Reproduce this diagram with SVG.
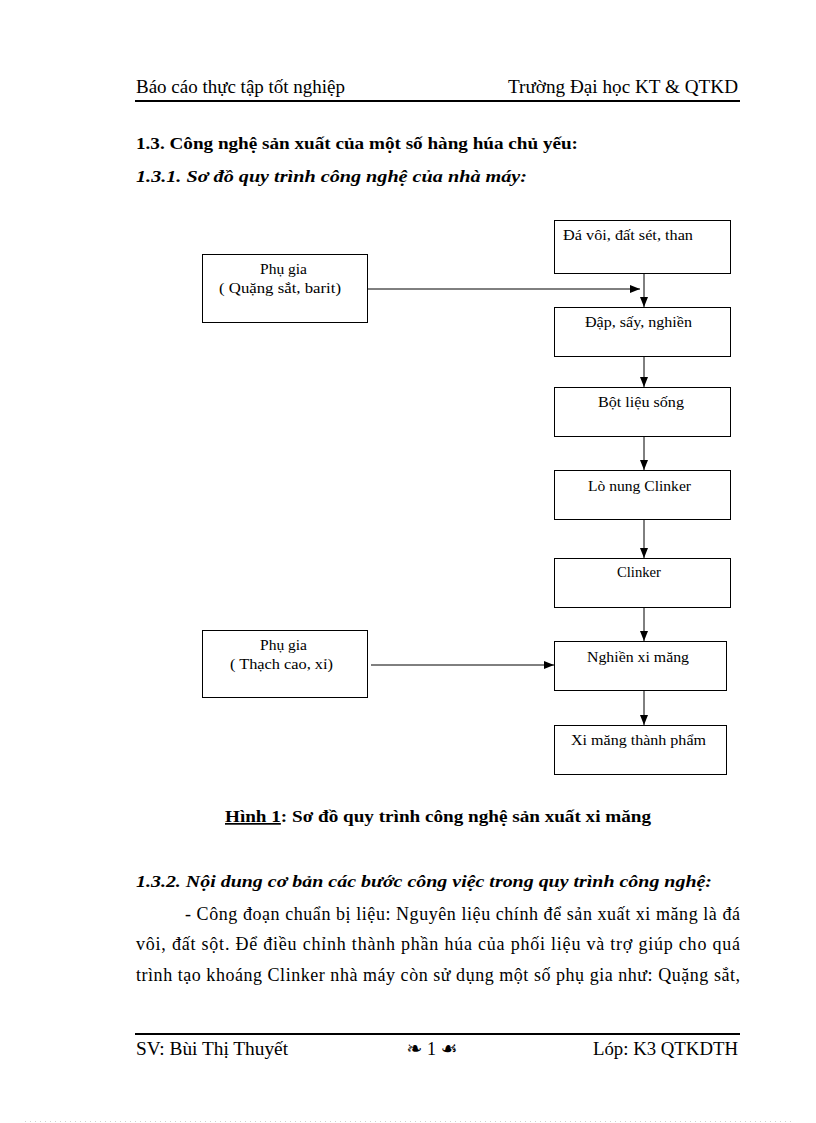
<svg xmlns="http://www.w3.org/2000/svg" width="816" height="1123" viewBox="0 0 816 1123">
<defs>
<marker id="ah" viewBox="0 0 10 8" refX="10" refY="4" markerWidth="10" markerHeight="8" markerUnits="userSpaceOnUse" orient="auto">
<path d="M0,0 L10,4 L0,8 Z" fill="#000"/>
</marker>
<style>
text{font-family:"Liberation Serif","Times New Roman",serif;fill:#000}
.hd{font-size:18px}
.b{font-weight:bold;font-size:17px}
.bi{font-weight:bold;font-style:italic;font-size:17px}
.p{font-size:18px}
.n{font-size:15px}
.box{fill:#fff;stroke:#000;stroke-width:1}
.c{stroke:#000;stroke-width:1;fill:none;marker-end:url(#ah)}
.rule{stroke:#000;stroke-width:2}
</style>
</defs>
<rect width="816" height="1123" fill="#fff"/>
<g id="header">
<text class="hd" x="136" y="93" textLength="209" lengthAdjust="spacingAndGlyphs">Báo cáo thực tập tốt nghiệp</text>
<text class="hd" x="508" y="93" textLength="230" lengthAdjust="spacingAndGlyphs">Trường Đại học KT &amp; QTKD</text>
<line class="rule" x1="135" y1="101" x2="740" y2="101"/>
</g>
<g id="headings">
<text class="b" x="136" y="149" textLength="442" lengthAdjust="spacingAndGlyphs">1.3. Công nghệ sản xuất của một số hàng húa chủ yếu:</text>
<text class="bi" x="136" y="182" textLength="391" lengthAdjust="spacingAndGlyphs">1.3.1. Sơ đồ quy trình công nghệ của nhà máy:</text>
</g>
<g id="connectors">
<line class="c" x1="367" y1="289" x2="640" y2="289"/>
<line class="c" x1="644" y1="273" x2="644" y2="307"/>
<line class="c" x1="644" y1="356" x2="644" y2="387"/>
<line class="c" x1="644" y1="436" x2="644" y2="470"/>
<line class="c" x1="644" y1="519" x2="644" y2="558"/>
<line class="c" x1="644" y1="607" x2="644" y2="641"/>
<line class="c" x1="371" y1="665" x2="554" y2="665"/>
<line class="c" x1="644" y1="691" x2="644" y2="725"/>
</g>
<g id="n_davoi">
<rect class="box" x="554.5" y="220.5" width="176" height="53"/>
<text class="n" x="563" y="240" textLength="130" lengthAdjust="spacingAndGlyphs">Đá vôi,  đất sét, than</text>
</g>
<g id="n_phugia1">
<rect class="box" x="202.5" y="254.5" width="165" height="68"/>
<text class="n" x="260" y="274" textLength="47" lengthAdjust="spacingAndGlyphs">Phụ gia</text>
<text class="n" x="219" y="293" textLength="122" lengthAdjust="spacingAndGlyphs">( Quặng  sắt, barit)</text>
</g>
<g id="n_dap">
<rect class="box" x="554.5" y="307.5" width="176" height="49"/>
<text class="n" x="585" y="327" textLength="107" lengthAdjust="spacingAndGlyphs">Đập, sấy, nghiền</text>
</g>
<g id="n_botlieu">
<rect class="box" x="554.5" y="387.5" width="176" height="49"/>
<text class="n" x="598" y="407" textLength="86" lengthAdjust="spacingAndGlyphs">Bột liệu  sống</text>
</g>
<g id="n_lonung">
<rect class="box" x="554.5" y="470.5" width="176" height="49"/>
<text class="n" x="588" y="491" textLength="103" lengthAdjust="spacingAndGlyphs">Lò nung  Clinker</text>
</g>
<g id="n_clinker">
<rect class="box" x="554.5" y="558.5" width="176" height="49"/>
<text class="n" x="617" y="577" textLength="44" lengthAdjust="spacingAndGlyphs">Clinker</text>
</g>
<g id="n_phugia2">
<rect class="box" x="202.5" y="630.5" width="165" height="67"/>
<text class="n" x="260" y="650" textLength="47" lengthAdjust="spacingAndGlyphs">Phụ gia</text>
<text class="n" x="230" y="669" textLength="103" lengthAdjust="spacingAndGlyphs">( Thạch  cao, xỉ)</text>
</g>
<g id="n_nghien">
<rect class="box" x="554.5" y="641.5" width="172" height="49"/>
<text class="n" x="587" y="662" textLength="102" lengthAdjust="spacingAndGlyphs">Nghiền  xi  măng</text>
</g>
<g id="n_thanhpham">
<rect class="box" x="554.5" y="725.5" width="172" height="49"/>
<text class="n" x="571" y="745" textLength="135" lengthAdjust="spacingAndGlyphs">Xi măng  thành  phẩm</text>
</g>
<g id="caption">
<text class="b" x="225" y="822" textLength="426" lengthAdjust="spacingAndGlyphs"><tspan text-decoration="underline">Hình 1</tspan>: Sơ đồ quy trình  công nghệ sản xuất xi măng</text>
</g>
<g id="body">
<text class="bi" x="136" y="887" textLength="576" lengthAdjust="spacingAndGlyphs">1.3.2. Nội dung cơ bản các bước công việc trong quy trình công nghệ:</text>
<text class="p" x="185" y="920" textLength="555" lengthAdjust="spacing">- Công đoạn chuẩn bị liệu:  Nguyên liệu  chính để sản xuất xi măng là  đá</text>
<text class="p" x="136" y="950" textLength="604" lengthAdjust="spacing">vôi, đất sột. Để điều chỉnh thành phần húa của phối liệu và trợ giúp cho quá</text>
<text class="p" x="136" y="981" textLength="604" lengthAdjust="spacing">trình tạo khoáng Clinker  nhà máy còn sử dụng một số phụ gia như:  Quặng sắt,</text>
</g>
<g id="footer">
<line class="rule" x1="135" y1="1034" x2="740" y2="1034"/>
<text class="hd" x="136" y="1055" textLength="152" lengthAdjust="spacingAndGlyphs">SV: Bùi  Thị Thuyết</text>
<text class="hd" x="432" y="1055" text-anchor="middle"><tspan font-family="DejaVu Sans" font-size="19">❧</tspan> 1 <tspan font-family="DejaVu Sans" font-size="19">☙</tspan></text>
<text class="hd" x="593" y="1055" textLength="145" lengthAdjust="spacingAndGlyphs">Lóp: K3  QTKDTH</text>
<line x1="25" y1="1121.5" x2="792" y2="1121.5" stroke="#d0d0d0" stroke-width="1" stroke-dasharray="1,4"/>
</g>
</svg>
